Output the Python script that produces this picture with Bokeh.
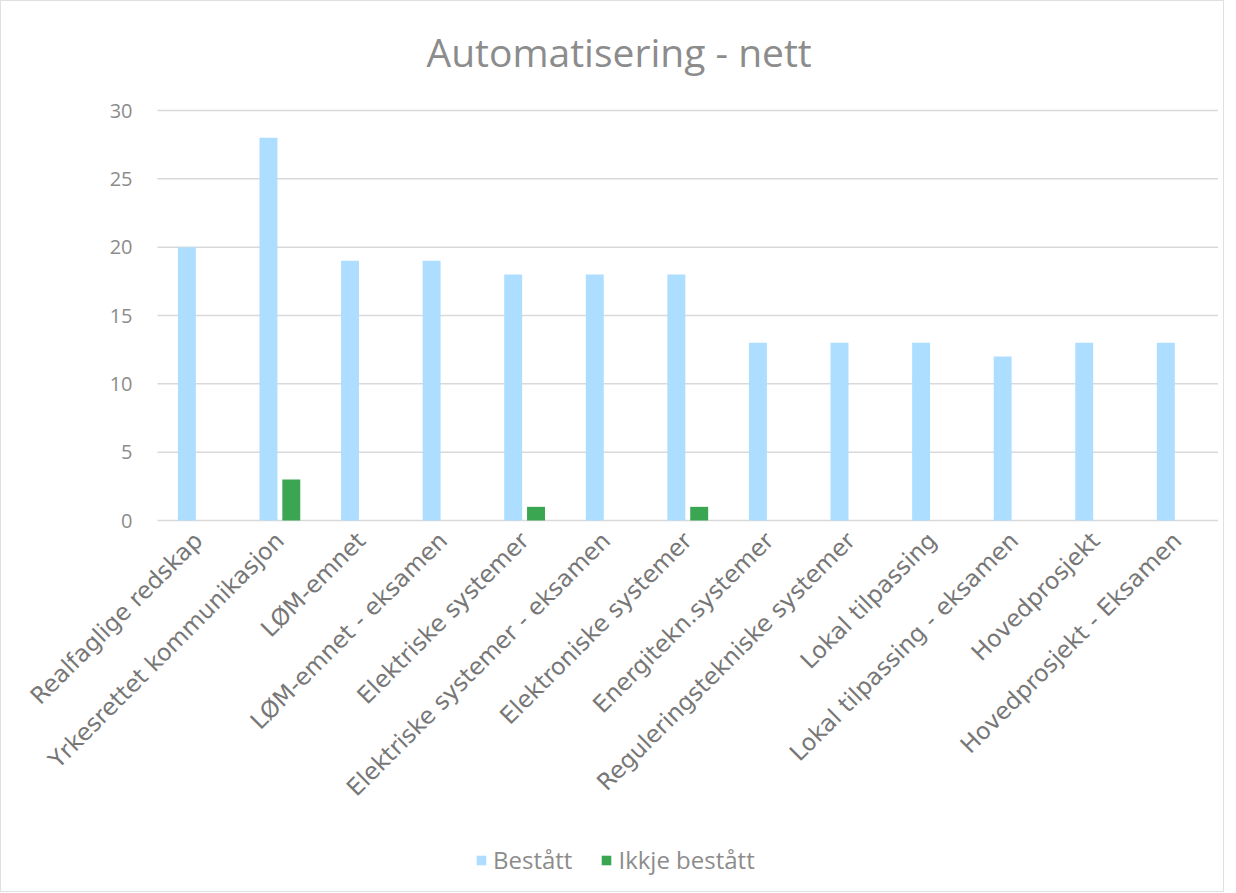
from bokeh.plotting import figure
from bokeh.models import Range1d, Legend, LegendItem, Title, ColumnDataSource
from bokeh.core.properties import value
from bokeh.embed import file_html
from bokeh.resources import INLINE
from math import pi

categories = ["Realfaglige redskap", "Yrkesrettet kommunikasjon", "LØM-emnet",
              "LØM-emnet - eksamen", "Elektriske systemer", "Elektriske systemer - eksamen",
              "Elektroniske systemer", "Energitekn.systemer", "Reguleringstekniske systemer",
              "Lokal tilpassing", "Lokal tilpassing - eksamen", "Hovedprosjekt",
              "Hovedprosjekt - Eksamen"]
bestatt = [20, 28, 19, 19, 18, 18, 18, 13, 13, 13, 12, 13, 13]
ikkje_bestatt = [0, 3, 0, 0, 1, 0, 1, 0, 0, 0, 0, 0, 0]
series_names = ["Bestått", "Ikkje bestått"]
colors = ["#ADDEFF", "#3AA651"]
y_ticks = [0, 5, 10, 15, 20, 25, 30]

n = len(categories)
pos = list(range(n))
bar_w = 0.22
off = 0.14

src = ColumnDataSource(dict(
    cat=categories, x=pos,
    xb=[p_ - off for p_ in pos], xi=[p_ + off for p_ in pos],
    b=bestatt, i=ikkje_bestatt, base=[0] * n))
grid = ColumnDataSource(dict(
    y=y_ticks, lbl=[str(t) for t in y_ticks],
    x0=[-0.5] * len(y_ticks), x1=[n - 0.5] * len(y_ticks)))

# layout geometry (pixels)
frame_w = 1222
frame_h = 793
cat_px = 81.58
left_px = 156           # space left of first category slot
value_px = 410          # pixels used by 0..30
top_pad_px = 12         # room above the top gridline for its label
scale = 30 / value_px
y_max = 30 + top_pad_px * scale
y_min = y_max - frame_h * scale
x_min = -0.5 - left_px / cat_px
x_max = x_min + frame_w / cat_px

p = figure(x_range=Range1d(x_min, x_max), y_range=Range1d(y_min, y_max),
           frame_width=frame_w, frame_height=frame_h, output_backend="svg",
           toolbar_location=None,
           min_border_left=0, min_border_right=0, min_border_top=96, min_border_bottom=0,
           background_fill_color="white", border_fill_color="white",
           styles={"border": "1px solid #e0e0e0", "box-sizing": "border-box"})

p.segment(x0="x0", x1="x1", y0="y", y1="y", source=grid,
          line_color="#d9d9d9", line_width=1.5)

r1 = p.vbar(x="xb", top="b", width=bar_w, source=src,
            fill_color=colors[0], line_color=None)
r2 = p.vbar(x="xi", top="i", width=bar_w, source=src,
            fill_color=colors[1], line_color=None)

# y tick labels
p.text(x="x0", y="y", text="lbl", source=grid, x_offset=-25,
       text_align="right", text_baseline="middle",
       text_font=value("Open Sans"), text_font_size="20px", text_color="#8c8c8c")

# category labels
p.text(x="x", y="base", text="cat", source=src, angle=pi / 4,
       text_align="right", text_baseline="middle", y_offset=16,
       text_font=value("DejaVu Sans"), text_font_size="23.5px", text_color="#777777")

p.title = Title(text="Automatisering - nett", align="left", offset=425,
                text_font="Open Sans", text_font_size="39px", text_font_style="normal",
                text_color="#8c8c8c", standoff=42)

p.outline_line_color = None
p.xgrid.visible = False
p.ygrid.visible = False
p.xaxis.visible = False
p.yaxis.visible = False

legend = Legend(items=[LegendItem(label=series_names[0], renderers=[r1]),
                       LegendItem(label=series_names[1], renderers=[r2])],
                orientation="horizontal", location=(474, 15),
                label_text_font="Open Sans", label_text_font_size="24px",
                label_text_color="#8c8c8c", glyph_width=12, glyph_height=12,
                spacing=28, label_standoff=6, border_line_color=None,
                background_fill_alpha=0, margin=0, padding=4)
p.add_layout(legend, "center")

open("out.html", "w").write(file_html(p, INLINE))
